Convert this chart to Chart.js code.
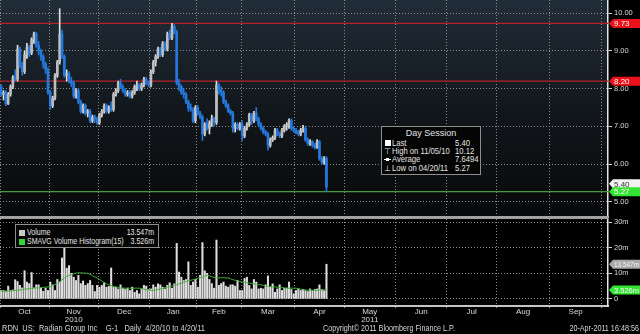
<!DOCTYPE html>
<html>
<head>
<meta charset="utf-8">
<title>RDN US Equity</title>
<script src="https://cdn.jsdelivr.net/npm/chart.js@4.4.1/dist/chart.umd.min.js"></script>
<style>
  html, body { margin: 0; padding: 0; background: #000; }
  #wrap { position: relative; width: 640px; height: 334px; overflow: hidden; background: #000; }
  #chart { position: absolute; left: 0; top: 0; }
  .t { position: absolute; white-space: pre; font-family: 'Liberation Sans', sans-serif; font-size: 9px; line-height: 9px; color: #e4e4e4; transform-origin: left center; }
  .r { transform-origin: right center; }
  .s85 { transform: scaleX(0.85); }
  .s78 { transform: scaleX(0.78); }
  .s80 { transform: scaleX(0.8); }
  .s83 { transform: scaleX(0.83); }
  .box { position: absolute; border: 1px solid #8e8e8e; background: #050505; box-sizing: border-box; }
  .sq { position: absolute; }
</style>
</head>
<body>
<div id="wrap">
  <canvas id="chart" width="640" height="334"></canvas>

  <!-- day session legend -->
  <div class="box" style="left:381px;top:126px;width:100px;height:49px;"></div>
  <div class="t" style="left:381px;top:129px;width:100px;text-align:center;">Day Session</div>
  <div class="sq" style="left:385px;top:140px;width:6px;height:6px;background:#fff;"></div>
  <div class="t s85" style="left:392px;top:139px;">Last</div>
  <div class="t s85" style="left:455px;top:139px;">5.40</div>
  <div class="t" style="left:384px;top:147px;font-size:8px;">⊤</div>
  <div class="t s85" style="left:392px;top:147px;">High on 11/05/10</div>
  <div class="t s85" style="left:455px;top:147px;">10.12</div>
  <div class="sq" style="left:384px;top:159px;width:7px;height:1px;background:#fff;"></div>
  <div class="sq" style="left:386px;top:158px;width:3px;height:3px;background:#fff;"></div>
  <div class="t s85" style="left:392px;top:155px;">Average</div>
  <div class="t s85" style="left:455px;top:155px;">7.6494</div>
  <div class="t" style="left:384px;top:164px;font-size:8px;">⊥</div>
  <div class="t s85" style="left:392px;top:164px;">Low on 04/20/11</div>
  <div class="t s85" style="left:455px;top:164px;">5.27</div>

  <!-- volume legend -->
  <div class="box" style="left:15px;top:224px;width:144px;height:24px;"></div>
  <div class="sq" style="left:19px;top:230px;width:6px;height:6px;background:#c8c8c8;"></div>
  <div class="t s78" style="left:27px;top:228px;">Volume</div>
  <div class="t s78 r" style="right:486px;top:228px;">13.547m</div>
  <div class="sq" style="left:19px;top:239px;width:6px;height:6px;background:#35d335;"></div>
  <div class="t s78" style="left:27px;top:237px;">SMAVG Volume Histogram(15)</div>
  <div class="t s78 r" style="right:486px;top:237px;">3.526m</div>

  <!-- footer -->
  <div class="t s83" style="left:2px;top:324px;color:#d6d6d6;">RDN  US:  Radian Group Inc    G-1   Daily  4/20/10 to 4/20/11</div>
  <div class="t s80" style="left:323px;top:324px;color:#d6d6d6;">Copyright© 2011 Bloomberg Finance L.P.</div>
  <div class="t s80 r" style="right:1px;top:324px;color:#d6d6d6;">20-Apr-2011 16:48:56</div>
</div>

<script>
'use strict';

// months on the time axis and the trading days in each (Oct 2010 .. Sep 2011)
const monthNames = ['Oct', 'Nov', 'Dec', 'Jan', 'Feb', 'Mar', 'Apr', 'May', 'Jun', 'Jul', 'Aug', 'Sep'];
const monthDays = [21, 21, 22, 20, 19, 23, 21, 22, 22, 21, 23, 22];
const yearLabels = { 1: '2010', 7: '2011' };

// daily candles, 1 Oct 2010 .. 20 Apr 2011
const opens = [
  8.05, 7.85, 7.9, 7.6, 7.85, 8.05, 8.3, 8.25, 9.05, 8.6,
  8.45, 8.9, 9.1, 8.95, 9.3, 9.45, 9.15, 9.0, 8.85, 8.65,
  8.5, 7.9, 7.55, 7.75, 8.35, 8.7, 9.45, 8.85, 8.35, 8.4,
  8.2, 8.15, 7.8, 7.95, 7.65, 7.4, 7.55, 7.35, 7.4, 7.15,
  7.25, 7.2, 7.1, 7.3, 7.4, 7.55, 7.4, 7.5, 7.45, 7.85,
  7.95, 8.15, 8.05, 7.95, 7.85, 7.9, 7.8, 7.9, 8.05, 8.1,
  8.0, 8.1, 8.25, 8.15, 8.1, 8.45, 8.7, 8.85, 9.05, 8.9,
  9.2, 9.05, 9.45, 9.35, 9.65, 9.5, 8.15, 8.05, 7.9, 7.85,
  7.65, 7.5, 7.45, 7.15, 7.5, 7.35, 7.25, 6.8, 7.05, 6.95,
  7.1, 7.2, 7.1, 8.1, 7.95, 7.9, 7.65, 7.55, 7.4, 7.35,
  6.95, 7.05, 6.95, 7.05, 6.75, 6.95, 7.05, 7.3, 7.15, 7.35,
  7.2, 7.05, 6.95, 6.85, 6.8, 6.5, 6.65, 6.7, 6.9, 6.8,
  6.75, 6.9, 7.0, 7.05, 7.15, 6.95, 6.9, 6.85, 6.8, 6.9,
  6.95, 6.65, 6.55, 6.6, 6.5, 6.45, 6.6, 6.15, 6.05, 6.15
];
const highs = [
  8.1, 7.95, 7.95, 7.9, 8.1, 8.35, 8.5, 9.15, 9.1, 8.7,
  9.0, 9.2, 9.15, 9.35, 9.5, 9.5, 9.25, 9.05, 8.9, 8.7,
  8.55, 7.95, 7.8, 8.4, 8.75, 10.12, 9.55, 8.9, 8.5, 8.45,
  8.3, 8.2, 8.0, 8.0, 7.7, 7.6, 7.6, 7.45, 7.45, 7.3,
  7.3, 7.25, 7.35, 7.45, 7.6, 7.6, 7.55, 7.65, 7.9, 8.0,
  8.2, 8.25, 8.1, 8.0, 7.95, 7.95, 7.95, 8.1, 8.2, 8.15,
  8.15, 8.3, 8.3, 8.2, 8.5, 8.75, 8.9, 9.1, 9.1, 9.25,
  9.25, 9.5, 9.55, 9.73, 9.7, 9.55, 8.25, 8.1, 8.0, 7.9,
  7.7, 7.6, 7.5, 7.55, 7.55, 7.4, 7.3, 7.1, 7.2, 7.15,
  7.3, 7.25, 8.2, 8.15, 8.05, 7.95, 7.7, 7.6, 7.45, 7.4,
  7.1, 7.1, 7.1, 7.15, 7.0, 7.1, 7.35, 7.35, 7.4, 7.5,
  7.25, 7.1, 7.0, 6.9, 6.85, 6.7, 6.75, 6.95, 6.95, 6.85,
  6.95, 7.05, 7.1, 7.2, 7.2, 7.0, 6.95, 6.9, 6.95, 7.03,
  7.0, 6.7, 6.65, 6.62, 6.55, 6.65, 6.63, 6.2, 6.2, 6.2
];
const lows = [
  7.8, 7.7, 7.55, 7.58, 7.8, 8.0, 8.2, 8.2, 8.55, 8.35,
  8.4, 8.8, 8.85, 8.9, 9.2, 9.1, 8.9, 8.75, 8.55, 8.4,
  7.85, 7.45, 7.5, 7.7, 8.3, 8.65, 8.8, 8.3, 8.2, 8.15,
  8.05, 7.75, 7.75, 7.6, 7.35, 7.35, 7.3, 7.25, 7.1, 7.1,
  7.1, 7.05, 7.05, 7.25, 7.35, 7.35, 7.35, 7.4, 7.4, 7.8,
  7.9, 8.0, 7.9, 7.8, 7.8, 7.75, 7.75, 7.85, 7.95, 7.95,
  7.95, 8.05, 8.1, 8.05, 8.05, 8.4, 8.6, 8.8, 8.85, 8.85,
  9.0, 9.0, 9.3, 9.3, 9.45, 8.1, 7.95, 7.85, 7.75, 7.6,
  7.4, 7.4, 7.1, 7.1, 7.3, 7.2, 6.63, 6.75, 6.9, 6.8,
  7.0, 7.0, 7.05, 7.85, 7.8, 7.6, 7.5, 7.37, 7.3, 6.85,
  6.85, 6.9, 6.9, 6.63, 6.7, 6.9, 7.0, 7.05, 7.1, 7.15,
  7.0, 6.9, 6.8, 6.75, 6.37, 6.45, 6.6, 6.65, 6.75, 6.7,
  6.7, 6.85, 6.9, 6.95, 6.9, 6.85, 6.8, 6.75, 6.75, 6.85,
  6.6, 6.5, 6.5, 6.45, 6.4, 6.42, 6.1, 6.0, 6.0, 5.27
];
const closes = [
  7.85, 7.9, 7.6, 7.85, 8.05, 8.3, 8.25, 9.05, 8.6, 8.45,
  8.9, 9.1, 8.95, 9.3, 9.45, 9.15, 9.0, 8.85, 8.65, 8.5,
  7.9, 7.55, 7.75, 8.35, 8.7, 9.45, 8.85, 8.35, 8.4, 8.2,
  8.15, 7.8, 7.95, 7.65, 7.4, 7.55, 7.35, 7.4, 7.15, 7.25,
  7.2, 7.1, 7.3, 7.4, 7.55, 7.4, 7.5, 7.45, 7.85, 7.95,
  8.15, 8.05, 7.95, 7.85, 7.9, 7.8, 7.9, 8.05, 8.1, 8.0,
  8.1, 8.25, 8.15, 8.1, 8.45, 8.7, 8.85, 9.05, 8.9, 9.2,
  9.05, 9.45, 9.35, 9.65, 9.5, 8.15, 8.05, 7.9, 7.85, 7.65,
  7.5, 7.45, 7.15, 7.5, 7.35, 7.25, 6.8, 7.05, 6.95, 7.1,
  7.2, 7.1, 8.1, 7.95, 7.9, 7.65, 7.55, 7.4, 7.35, 6.95,
  7.05, 6.95, 7.05, 6.75, 6.95, 7.05, 7.3, 7.15, 7.35, 7.2,
  7.05, 6.95, 6.85, 6.8, 6.5, 6.65, 6.7, 6.9, 6.8, 6.75,
  6.9, 7.0, 7.05, 7.15, 6.95, 6.9, 6.85, 6.8, 6.9, 6.95,
  6.65, 6.55, 6.6, 6.5, 6.45, 6.6, 6.15, 6.05, 6.15, 5.4
];

// volume in millions and its 15 day moving average
const volume = [
  3.3, 3.3, 3.0, 5.0, 3.3, 3.5, 7.5, 6.8, 5.3, 4.3,
  11.0, 6.6, 6.0, 10.3, 4.3, 5.5, 5.5, 4.2, 3.0, 4.2,
  3.3, 6.6, 5.5, 3.3, 7.6, 6.6, 16.0, 25.6, 12.0, 13.0,
  10.0, 8.5, 7.2, 9.2, 6.0, 7.0, 5.3, 6.0, 7.2, 5.3,
  2.9, 5.3, 4.6, 5.3, 6.3, 4.6, 4.9, 12.1, 4.6, 4.6,
  3.9, 5.5, 4.2, 3.7, 4.2, 3.3, 4.6, 2.6, 3.3, 2.0,
  3.9, 5.3, 5.0, 3.7, 3.9, 5.5, 4.6, 5.9, 5.5, 4.6,
  3.9, 5.3, 6.3, 4.2, 5.9, 21.7, 10.5, 8.5, 7.2, 7.6,
  14.5, 5.3, 6.6, 7.6, 4.6, 9.2, 22.0, 11.0, 10.0, 7.6,
  6.0, 4.2, 23.0, 5.3, 6.0, 6.6, 5.0, 4.6, 5.5, 5.5,
  5.0, 7.2, 3.3, 3.3, 8.0, 8.5, 5.3, 3.9, 7.6, 6.6,
  3.9, 4.2, 3.9, 5.5, 9.0, 4.6, 5.9, 2.6, 3.9, 5.5,
  3.3, 4.2, 4.2, 6.6, 3.7, 2.0, 3.3, 3.9, 3.3, 3.7,
  3.3, 2.9, 3.9, 3.3, 3.7, 3.9, 5.5, 3.7, 3.3, 13.547
];
const smavg = [
  2.9, 3.0, 3.0, 3.1, 3.1, 3.2, 3.3, 3.4, 3.5, 3.6,
  3.8, 3.9, 4.0, 4.1, 4.2, 4.3, 4.3, 4.4, 4.5, 4.6,
  4.7, 4.9, 5.1, 5.6, 6.2, 6.8, 7.5, 8.2, 8.8, 9.2,
  9.5, 9.8, 10.1, 10.2, 10.2, 10.1, 10.1, 10.0, 9.6, 9.1,
  8.6, 8.2, 7.6, 7.0, 6.4, 5.9, 5.5, 5.2, 4.9, 4.7,
  4.5, 4.3, 4.2, 4.2, 4.2, 4.2, 4.1, 4.2, 4.2, 4.2,
  4.0, 3.8, 3.6, 3.5, 3.4, 3.3, 3.5, 3.7, 3.9, 4.1,
  4.4, 4.6, 4.8, 5.0, 5.3, 5.5, 5.9, 6.2, 6.5, 6.8,
  7.1, 7.3, 7.5, 7.8, 8.0, 8.3, 8.5, 8.9, 9.3, 9.0,
  8.7, 8.4, 8.2, 8.2, 8.3, 8.3, 8.2, 8.2, 7.9, 7.5,
  7.3, 7.0, 6.8, 6.6, 6.5, 6.3, 6.2, 6.0, 5.9, 5.7,
  5.6, 5.5, 5.3, 5.1, 4.9, 4.8, 4.7, 4.7, 4.6, 4.5,
  4.4, 4.3, 4.2, 4.2, 4.2, 4.2, 4.2, 4.0, 3.8, 3.6,
  3.5, 3.4, 3.4, 3.3, 3.3, 3.4, 3.4, 3.5, 3.5, 3.526
];

// horizontal level lines and axis ticks
const redLevels = [9.73, 8.20];
const lowLevel = 5.27;
const priceTicks = [5, 5.5, 6, 6.5, 7, 7.5, 8, 8.5, 9, 9.5, 10];
const volumeTicks = [0, 5, 10, 15, 20, 25, 30];

// value tags on the right axis
const priceTags = [
  { value: 9.73, text: '9.73', bg: '#ec1118', fg: '#ffffff', shift: 0 },
  { value: 8.20, text: '8.20', bg: '#ec1118', fg: '#ffffff', shift: 0 },
  { value: 5.40, text: '5.40', bg: '#f2f2f2', fg: '#303030', shift: -3 },
  { value: 5.27, text: '5.27', bg: '#33e433', fg: '#ffffff', shift: 0 }
];
const volumeTags = [
  { value: 13.547, text: '13.547m', bg: '#a9a9a9', fg: '#f6f6f6', shift: 0 },
  { value: 3.526, text: '3.526m', bg: '#33e433', fg: '#ffffff', shift: 0 }
];

const xMax = 259.8;
const blue = '#2479de';
const upBody = '#bdbdbd';
const upWick = '#e2e2e2';
const gridCol = '#8c8c8c';
const txtCol = '#d8d8d8';
const tickFont = "'Liberation Sans', sans-serif";

// month boundaries get grid lines, month middles get the labels
let start = 0;
const xTicks = [];
const xLabels = [];
for (let m = 0; m < monthNames.length; m++) {
  xTicks.push(start);
  xLabels.push('');
  xTicks.push(start + monthDays[m] / 2);
  xLabels.push(yearLabels[m] ? [monthNames[m], yearLabels[m]] : monthNames[m]);
  start += monthDays[m];
}
xTicks.push(start);
xLabels.push('');

const isUp = i => closes[i] >= opens[i];

function drawTag(ctx, x, y, t) {
  const h = 9;
  ctx.beginPath();
  ctx.moveTo(x, y);
  ctx.lineTo(x + 4, y - h / 2);
  ctx.lineTo(640, y - h / 2);
  ctx.lineTo(640, y + h / 2);
  ctx.lineTo(x + 4, y + h / 2);
  ctx.closePath();
  ctx.fillStyle = t.bg;
  ctx.fill();
  ctx.fillStyle = t.fg;
  ctx.font = '8px ' + tickFont;
  ctx.textBaseline = 'middle';
  ctx.textAlign = 'left';
  ctx.fillText(t.text, x + 5, y + 0.5, 640 - x - 6);
}

const panels = {
  id: 'panels',
  beforeDraw(chart) {
    const { ctx, chartArea: a, scales: { y } } = chart;
    ctx.save();
    ctx.fillStyle = '#000';
    ctx.fillRect(0, 0, chart.width, chart.height);
    const g = ctx.createLinearGradient(0, y.top, 0, y.bottom);
    g.addColorStop(0, '#212d39');
    g.addColorStop(0.5, '#12171c');
    g.addColorStop(1, '#08090a');
    ctx.fillStyle = g;
    ctx.fillRect(a.left, y.top, a.right - a.left, y.bottom - y.top);
    ctx.restore();
  },
  afterDraw(chart) {
    const { ctx, chartArea: a, scales: { y, yv } } = chart;
    ctx.save();
    ctx.fillStyle = '#a2a2a2';
    ctx.fillRect(a.left, y.bottom - 1, a.right - a.left, 3);
    priceTags.forEach(t => drawTag(ctx, a.right + 1, y.getPixelForValue(t.value) + t.shift, t));
    volumeTags.forEach(t => drawTag(ctx, a.right + 1, yv.getPixelForValue(t.value) + t.shift, t));
    ctx.restore();
  }
};

const levelData = v => [{ x: 0, y: v }, { x: xMax, y: v }];

const fitY = s => {
  s.width = 32;
  s.paddingTop = 0;
  s.paddingBottom = 0;
};

new Chart(document.getElementById('chart'), {
  type: 'bar',
  data: {
    datasets: [
      {
        label: 'body',
        data: closes.map((c, i) => ({ x: i + 0.5, y: [opens[i], c] })),
        backgroundColor: ctx => isUp(ctx.dataIndex) ? upBody : blue,
        barThickness: 2,
        grouped: false,
        yAxisID: 'y',
        order: 1
      },
      {
        label: 'wick',
        data: closes.map((c, i) => ({ x: i + 0.5, y: [lows[i], highs[i]] })),
        backgroundColor: ctx => isUp(ctx.dataIndex) ? upWick : blue,
        barThickness: 1,
        grouped: false,
        yAxisID: 'y',
        order: 2
      },
      {
        label: 'Volume',
        data: volume.map((v, i) => ({ x: i + 0.5, y: v })),
        backgroundColor: '#dedede',
        barThickness: 1.4,
        grouped: false,
        yAxisID: 'yv',
        order: 3
      },
      {
        type: 'line',
        label: 'SMAVG Volume Histogram(15)',
        data: smavg.map((v, i) => ({ x: i + 0.5, y: v })),
        borderColor: '#3fae3a',
        borderWidth: 1,
        pointRadius: 0,
        yAxisID: 'yv',
        order: 0
      },
      ...redLevels.map(v => ({
        type: 'line',
        label: 'level ' + v,
        data: levelData(v),
        borderColor: '#b4222a',
        borderWidth: 1.3,
        pointRadius: 0,
        yAxisID: 'y',
        order: 5
      })),
      {
        type: 'line',
        label: 'low',
        data: levelData(lowLevel),
        borderColor: '#4a9c44',
        borderWidth: 1.3,
        pointRadius: 0,
        yAxisID: 'y',
        order: 5
      }
    ]
  },
  options: {
    responsive: false,
    animation: false,
    devicePixelRatio: 1,
    events: [],
    layout: { padding: { left: 0, right: 0, top: 0, bottom: 10 } },
    plugins: { legend: { display: false }, tooltip: { enabled: false } },
    scales: {
      x: {
        type: 'linear',
        min: 0,
        max: xMax,
        offset: false,
        afterBuildTicks: s => { s.ticks = xTicks.map(v => ({ value: v })); },
        afterFit: s => { s.height = 18; s.paddingLeft = 0; s.paddingRight = 0; },
        grid: {
          offset: false,
          color: ctx => ctx.index % 2 === 0 ? gridCol : 'rgba(0,0,0,0)',
          tickColor: ctx => ctx.index % 2 === 0 ? gridCol : 'rgba(0,0,0,0)',
          tickLength: 2,
          lineWidth: 1
        },
        border: { display: true, color: '#c6c6c6', width: 2, dash: [1, 2] },
        ticks: {
          autoSkip: false,
          maxRotation: 0,
          minRotation: 0,
          padding: 0,
          color: txtCol,
          font: { size: 8, lineHeight: 1, family: tickFont },
          callback: (v, i) => xLabels[i]
        }
      },
      y: {
        position: 'right',
        stack: 'panels',
        stackWeight: 217,
        min: 4.6,
        max: 10.35,
        afterBuildTicks: s => { s.ticks = priceTicks.map(v => ({ value: v })); },
        afterFit: fitY,
        grid: {
          color: ctx => Number.isInteger(ctx.tick.value) ? gridCol : 'rgba(0,0,0,0)',
          tickColor: '#d0d0d0',
          tickLength: 4,
          lineWidth: 1
        },
        border: { display: true, color: '#e6e6e6', width: 1.5, dash: [1, 2] },
        ticks: {
          padding: 2,
          color: txtCol,
          font: { size: 7.5, family: tickFont },
          callback: v => Number.isInteger(v) ? v.toFixed(2) : ''
        }
      },
      yv: {
        position: 'right',
        stack: 'panels',
        stackWeight: 89,
        min: -2.76,
        max: 32,
        afterBuildTicks: s => { s.ticks = volumeTicks.map(v => ({ value: v })); },
        afterFit: fitY,
        grid: {
          color: ctx => ctx.tick.value % 10 === 0 ? gridCol : 'rgba(0,0,0,0)',
          tickColor: '#d0d0d0',
          tickLength: 4,
          lineWidth: 1
        },
        border: { display: true, color: '#e6e6e6', width: 1.5, dash: [1, 2] },
        ticks: {
          padding: 2,
          color: txtCol,
          font: { size: 7.5, family: tickFont },
          callback: v => v % 10 === 0 ? (v === 0 ? '0' : v + 'm') : ''
        }
      }
    }
  },
  plugins: [panels]
});
</script>
</body>
</html>
